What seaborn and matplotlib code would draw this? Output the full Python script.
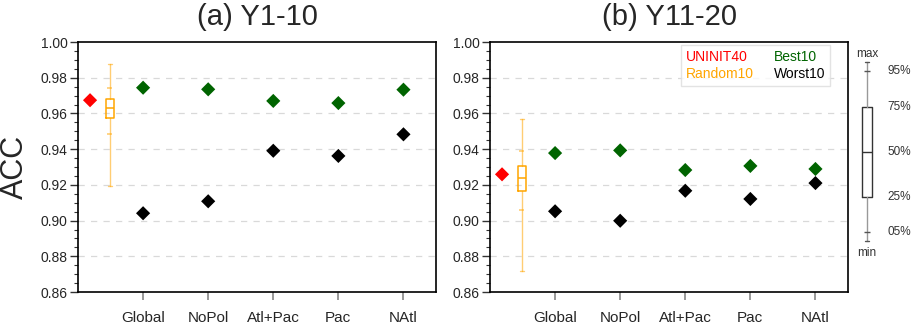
import numpy as np
import pandas as pd
import matplotlib
matplotlib.use("Agg")
import matplotlib.pyplot as plt
from matplotlib.ticker import MultipleLocator
from matplotlib.lines import Line2D
import seaborn as sns

# ---------------- data ----------------
regions = ["Global", "NoPol", "Atl+Pac", "Pac", "NAtl"]
panel_titles = ["(a) Y1-10", "(b) Y11-20"]

uninit40 = [0.9674, 0.9259]
best10_a = [0.9744, 0.9735, 0.9670, 0.9658, 0.9733]
worst10_a = [0.9041, 0.9108, 0.9391, 0.9362, 0.9483]
best10_b = [0.9378, 0.9393, 0.9283, 0.9306, 0.9289]
worst10_b = [0.9052, 0.8999, 0.9167, 0.9121, 0.9210]

# Random10 distribution: min, 5%, 25%, 50%, 75%, 95%, max
random10_a = [0.9194, 0.9485, 0.9573, 0.9629, 0.9679, 0.9744, 0.9875]
random10_b = [0.8718, 0.9058, 0.9166, 0.9237, 0.9304, 0.9390, 0.9569]

# schematic key box (min, 5%, 25%, 50%, 75%, 95%, max)
key_stats = [0.8887, 0.8934, 0.9134, 0.9386, 0.9638, 0.9838, 0.9886]
key_labels = ["min", "05%", "25%", "50%", "75%", "95%", "max"]

legend_names = ["UNINIT40", "Random10", "Best10", "Worst10"]
legend_colors = ["#ff0000", "#ffa500", "#006400", "#000000"]

# ---------------- style ----------------
sns.set_style("white")
plt.rcParams['font.family'] = ['Liberation Sans', 'DejaVu Sans']

W, H = 911, 324
fig = plt.figure(figsize=(W / 100, H / 100), dpi=100)

def px_axes(x0, y0, x1, y1):
    return fig.add_axes([x0 / W, 1 - y1 / H, (x1 - x0) / W, (y1 - y0) / H])

ax_a = px_axes(78, 42, 436, 292)
ax_b = px_axes(490, 42, 848, 292)

x_reg = np.arange(1, len(regions) + 1)
x_uninit = 0.185
x_rand = 0.49

panels = [
    (ax_a, best10_a, worst10_a, random10_a, uninit40[0]),
    (ax_b, best10_b, worst10_b, random10_b, uninit40[1]),
]

for i, (ax, best, worst, rnd, uni) in enumerate(panels):
    df = pd.DataFrame({
        "x": np.concatenate([x_reg, x_reg, [x_uninit]]),
        "acc": np.concatenate([best, worst, [uni]]),
        "series": ["Best10"] * 5 + ["Worst10"] * 5 + ["UNINIT40"],
    })
    sns.scatterplot(data=df, x="x", y="acc", hue="series",
                    palette={"Best10": "#006400", "Worst10": "#000000", "UNINIT40": "#ff0000"},
                    marker="D", s=52, linewidth=0, ax=ax, legend=False, zorder=4)
    # Random10 box
    stats = [dict(whislo=rnd[0], q1=rnd[2], med=rnd[3], q3=rnd[4], whishi=rnd[6])]
    ax.bxp(stats, positions=[x_rand], widths=0.13, showfliers=False,
           boxprops=dict(color="#ffa500", linewidth=1.1),
           medianprops=dict(color="#ffa500", linewidth=1.1),
           whiskerprops=dict(color="#ffa500", alpha=0.55, linewidth=1.0),
           capprops=dict(color="#ffa500", alpha=0.55, linewidth=1.0),
           capwidths=0.05, manage_ticks=False, zorder=3)
    ax.hlines([rnd[1], rnd[5]], x_rand - 0.04, x_rand + 0.04,
              color="#ffa500", alpha=0.55, linewidth=1.2, zorder=3)

    ax.set_xlim(0, 5.5)
    ax.set_ylim(0.86, 1.0)
    ax.set_xticks(x_reg)
    ax.set_xticklabels(regions, fontsize=11)
    ax.yaxis.set_major_locator(MultipleLocator(0.02))
    ax.yaxis.set_minor_locator(MultipleLocator(0.005))
    ax.yaxis.set_major_formatter(matplotlib.ticker.FormatStrFormatter("%.2f"))
    ax.tick_params(axis="y", which="major", left=True, length=5.5, width=1.0,
                   labelsize=10, pad=2, color="#333333")
    ax.tick_params(axis="y", which="minor", left=True, length=3, width=0.8, color="#333333")
    ax.tick_params(axis="x", which="major", bottom=True, length=6, width=1.2,
                   color="#888888", pad=8)
    ax.grid(False)
    for v in np.arange(0.88, 0.99, 0.02):
        ax.axhline(v, color="#d9d9d9", linestyle=(0, (5, 5)), linewidth=0.9, zorder=0)
    for s in ax.spines.values():
        s.set_color("black")
        s.set_linewidth(1.2)
    ax.set_xlabel("")
    ax.set_ylabel("")
    ax.set_title(panel_titles[i], fontsize=21, pad=12)

ax_a.set_ylabel("ACC", fontsize=22, va="center")
ax_a.yaxis.set_label_coords(-0.177, 0.5)

# legend (text only)
handles = [Line2D([], [], linestyle="none", marker=None) for _ in legend_names]
leg = ax_b.legend(handles, legend_names, ncol=2, loc="upper right",
                  bbox_to_anchor=((830 - 490) / 358, (292 - 45) / 250),
                  handlelength=0, handletextpad=0, columnspacing=1.45,
                  labelcolor=legend_colors, fontsize=10, frameon=True,
                  fancybox=False, edgecolor="#dddddd", borderpad=0.35,
                  labelspacing=0.25, borderaxespad=0)
leg.get_frame().set_linewidth(1.0)

# schematic key
ax_k = px_axes(850, 42, 911, 292)
ax_k.set_xlim(0, 1)
ax_k.set_ylim(0.86, 1.0)
ax_k.axis("off")
kx = (867 - 850) / 61
kstats = [dict(whislo=key_stats[0], q1=key_stats[2], med=key_stats[3],
               q3=key_stats[4], whishi=key_stats[6])]
ax_k.bxp(kstats, positions=[kx], widths=0.18, showfliers=False,
         boxprops=dict(color="#333333", linewidth=1.0),
         medianprops=dict(color="#333333", linewidth=1.0),
         whiskerprops=dict(color="#999999", linewidth=1.0),
         capprops=dict(color="#555555", linewidth=1.0),
         capwidths=0.05, manage_ticks=False)
ax_k.hlines([key_stats[1], key_stats[5]], kx - 0.05, kx + 0.05, color="#555555", linewidth=1.0)
ax_k.text(kx, key_stats[6] + 0.0015, key_labels[6], ha="center", va="bottom",
          fontsize=8.5, color="#333333")
ax_k.text(kx, key_stats[0] - 0.0035, key_labels[0], ha="center", va="top",
          fontsize=8.5, color="#333333")
for val, lab in zip(key_stats[1:6], key_labels[1:6]):
    ax_k.text((899 - 850) / 61, val, lab, ha="center", va="center",
              fontsize=8.5, color="#333333")

fig.savefig("out.png", dpi=100)
